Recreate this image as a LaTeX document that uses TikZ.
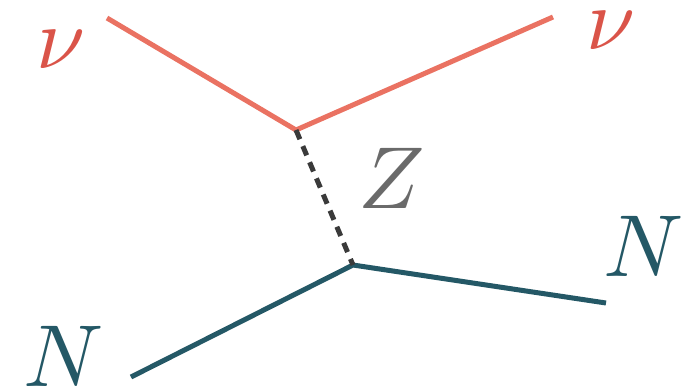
\documentclass[tikz,border=0pt]{standalone}
\usepackage{graphicx}
\definecolor{nured}{HTML}{EA7262}
\definecolor{nulabel}{HTML}{DA5449}
\definecolor{nteal}{HTML}{245866}
\definecolor{zgray}{HTML}{6A6A6A}
\definecolor{zdash}{HTML}{3A3A3A}
\newcommand{\biglbl}[1]{\scalebox{8.8}{$#1$}}
\tikzset{
  nuline/.style={draw=nured, line width=5pt},
  nline/.style={draw=nteal, line width=5pt},
  zline/.style={draw=zdash, line width=5pt, dash pattern=on 10pt off 7.5pt},
  lbl/.style={inner sep=0pt},
}
\begin{document}
\begin{tikzpicture}[x=1pt,y=-1pt]
\useasboundingbox (0,0) rectangle (682,389);
\coordinate (tl) at (107,18);
\coordinate (tr) at (553,17);
\coordinate (v1) at (296,130);
\coordinate (v2) at (353,265);
\coordinate (bl) at (131,377);
\coordinate (br) at (606,303);
\draw[nuline] (tl) -- (v1) -- (tr);
\draw[nline] (bl) -- (v2) -- (br);
\draw[zline] (v1) -- (v2);
\node[lbl, text=nulabel] (nu1) at (61,50) {\biglbl{\nu}};
\node[lbl, text=nulabel] (nu2) at (611,31) {\biglbl{\nu}};
\node[lbl, text=zgray] (z) at (392,178) {\biglbl{Z}};
\node[lbl, text=nteal] (n2) at (644,246) {\biglbl{N}};
\node[lbl, text=nteal] (n1) at (64,356) {\biglbl{N}};
\end{tikzpicture}
\end{document}
